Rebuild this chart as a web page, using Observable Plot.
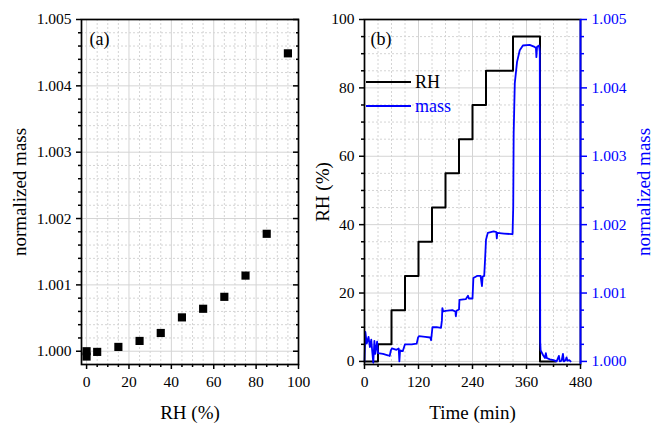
<!DOCTYPE html>
<html>
<head>
<meta charset="utf-8">
<script src="https://cdn.jsdelivr.net/npm/d3@7"></script>
<script src="https://cdn.jsdelivr.net/npm/@observablehq/plot@0.6"></script>
<style>
  html, body { margin: 0; padding: 0; background: #fff; }
  #wrap { position: relative; width: 654px; height: 423px; font-family: "Liberation Serif", "Times New Roman", serif; }
  #left { position: absolute; left: 0; top: 0; }
  #right { position: absolute; left: 300px; top: 0; }
  #legend { position: absolute; left: 366px; top: 70px; font-size: 18px; line-height: 24px; }
  #legend div { display: flex; align-items: center; height: 24px; }
  #legend svg { margin-right: 4px; }
</style>
</head>
<body>
<div id="wrap">
  <div id="left"></div>
  <div id="right"></div>
  <div id="legend">
    <div><svg width="45" height="4"><line x1="0" x2="45" y1="2" y2="2" stroke="black" stroke-width="2"/></svg><span>RH</span></div>
    <div style="color: blue;"><svg width="45" height="4"><line x1="0" x2="45" y1="2" y2="2" stroke="blue" stroke-width="1.8"/></svg><span>mass</span></div>
  </div>
</div>
<script>
// ---------- Panel (a): normalized mass vs RH ----------
const rhA   = [0, 0, 5, 15, 25, 35, 45, 55, 65, 75, 85, 95];
const massA = [1.00000, 0.99992, 0.99999, 1.000065, 1.000155, 1.000275, 1.00051, 1.00064, 1.00082, 1.00114, 1.00177, 1.00449];
const xTicksA = [0, 20, 40, 60, 80, 100];
const yTicksA = [1.000, 1.001, 1.002, 1.003, 1.004, 1.005];

// ---------- Panel (b): RH and mass vs time ----------
const rhTime  = [0, 30, 60, 90, 120, 150, 180, 210, 240, 270, 330, 390, 425];
const rhValue = [0, 5, 15, 25, 35, 45, 55, 65, 75, 85, 95, 0, 0];
const massTime = [0, 2, 5, 9, 12, 15, 17, 19.5, 22, 24, 28, 30, 41, 52, 56, 58.5, 61, 71, 76, 77.5, 79, 85, 88, 90, 105, 116, 119, 121, 135, 146, 148, 151, 160, 170, 172, 173, 175, 180, 195, 202, 203, 204.5, 210, 211, 225, 230, 232, 240, 242, 250, 258, 261, 262.5, 266, 268, 270, 274, 287, 293, 294, 295, 310, 329, 330.5, 331.5, 334, 339, 345, 352, 367, 378, 381, 382, 383.5, 388, 389.5, 390.5, 391.5, 397, 401, 403, 405, 412, 420, 427, 432, 434, 438, 441, 443, 447, 449, 451, 455, 458];
const massValue = [1.00000, 1.00043, 1.00026, 1.00036, 1.00021, 1.00032, 1.00016, 0.99998, 1.00030, 1.00011, 1.00029, 1.00012, 1.00011, 1.00009, 1.00008, 1.00016, 1.00019, 1.00017, 1.00019, 1.00000, 1.00016, 1.00015, 1.00021, 1.00025, 1.00025, 1.00026, 1.00035, 1.00037, 1.00036, 1.00035, 1.00031, 1.00050, 1.00050, 1.00049, 1.00060, 1.00078, 1.00073, 1.00074, 1.00075, 1.00073, 1.00066, 1.00074, 1.00076, 1.00090, 1.00091, 1.00096, 1.00092, 1.00092, 1.00122, 1.00125, 1.00125, 1.00110, 1.00124, 1.00125, 1.00150, 1.00178, 1.00188, 1.00190, 1.00189, 1.00180, 1.00188, 1.00187, 1.00186, 1.00225, 1.00334, 1.00407, 1.00438, 1.00455, 1.00462, 1.00463, 1.00460, 1.00458, 1.00445, 1.00460, 1.00462, 1.00453, 1.00028, 1.00016, 1.00009, 1.00005, 1.00012, 1.00005, 1.00003, 1.00002, 1.00000, 1.00008, 1.00000, 1.00001, 1.00011, 1.00000, 1.00002, 1.00006, 1.00001, 1.00002, 1.00000];
const xTicksB = [0, 120, 240, 360, 480];
const yTicksB = [0, 20, 40, 60, 80, 100];
const massTicksB = [1.000, 1.001, 1.002, 1.003, 1.004, 1.005];

// helpers
const FONT = "'Liberation Serif', 'Times New Roman', serif";
const GRID = "#d4d4d4";
const minorBetween = (majors, step) => {
  const out = [];
  for (let i = 0; i < majors.length - 1; i++) {
    for (let v = majors[i] + step; v < majors[i + 1] - step / 2; v += step) out.push(+v.toFixed(6));
  }
  return out;
};
const blank = () => "";
const ax = {strokeWidth: 1.5, fontSize: 15.5, label: null};
const title = {fontSize: 19, textAnchor: "middle", lineAnchor: "middle"};

// ---------- build panel (a) ----------
const xMinorA = minorBetween(xTicksA, 5);
const yMinorA = minorBetween(yTicksA, 0.0002);
const dataA = rhA.map((r, i) => ({rh: r, m: massA[i]}));

const plotA = Plot.plot({
  width: 300, height: 423,
  marginLeft: 81, marginRight: 2, marginTop: 19, marginBottom: 59,
  style: {fontFamily: FONT, fontSize: "15px", background: "transparent", color: "black", overflow: "visible"},
  x: {domain: [-2.4, 100]},
  y: {domain: [0.9998, 1.005]},
  marks: [
    Plot.ruleX(xMinorA, {stroke: GRID, strokeDasharray: "2,2"}),
    Plot.ruleY(yMinorA, {stroke: GRID, strokeDasharray: "2,2"}),
    Plot.ruleX(xTicksA, {stroke: GRID}),
    Plot.ruleY(yTicksA, {stroke: GRID}),
    Plot.dot(dataA, {x: "rh", y: "m", symbol: "square", r: 4.6, fill: "black", stroke: "none"}),
    Plot.frame({stroke: "black", strokeWidth: 1.7}),
    Plot.axisY({...ax, ticks: yTicksA, tickSize: 5, tickPadding: 5, tickFormat: d3.format(".3f")}),
    Plot.axisY({...ax, ticks: yMinorA, tickSize: 3, tickFormat: blank}),
    Plot.axisY({...ax, anchor: "right", ticks: yTicksA, tickSize: -6, tickFormat: blank}),
    Plot.axisY({...ax, anchor: "right", ticks: yMinorA, tickSize: -3, tickFormat: blank}),
    Plot.axisX({...ax, ticks: xTicksA, tickSize: 5, tickPadding: 6}),
    Plot.axisX({...ax, ticks: xMinorA, tickSize: 3, tickFormat: blank}),
    Plot.text(["normalized mass"], {...title, frameAnchor: "left", dx: -62, rotate: -90, fill: "black"}),
    Plot.text(["RH (%)"], {...title, frameAnchor: "bottom", dy: 48, fill: "black"}),
    Plot.text(["(a)"], {frameAnchor: "top-left", dx: 8, dy: 20, fontSize: 18, textAnchor: "start", lineAnchor: "middle", fill: "black"})
  ]
});
document.getElementById("left").append(plotA);

// ---------- build panel (b) ----------
// secondary axis: normalized mass 1.000..1.005 maps onto RH 0..100
const toEq = m => (m - 1) / 0.005 * 100;
const fromEq = e => 1 + e * 0.005 / 100;
const xMinorB = minorBetween(xTicksB, 30);
const yMinorB = minorBetween(yTicksB, 5);
const massMinorB = minorBetween(massTicksB, 0.00025).map(toEq);
const rhData = rhTime.map((t, i) => ({t, v: rhValue[i]}));
const massData = massTime.map((t, i) => ({t, v: toEq(massValue[i])}));

const plotB = Plot.plot({
  width: 354, height: 423,
  marginLeft: 64, marginRight: 74, marginTop: 19, marginBottom: 59,
  style: {fontFamily: FONT, fontSize: "15px", background: "transparent", color: "black", overflow: "visible"},
  x: {domain: [0, 480]},
  y: {domain: [-0.9, 100]},
  marks: [
    Plot.ruleX(xMinorB, {stroke: GRID, strokeDasharray: "2,2"}),
    Plot.ruleY(yMinorB, {stroke: GRID, strokeDasharray: "2,2"}),
    Plot.ruleX(xTicksB, {stroke: GRID}),
    Plot.ruleY(yTicksB, {stroke: GRID}),
    Plot.line(rhData, {x: "t", y: "v", curve: "step-after", stroke: "black", strokeWidth: 2}),
    Plot.line(massData, {x: "t", y: "v", stroke: "blue", strokeWidth: 1.8}),
    Plot.frame({stroke: "black", strokeWidth: 1.7}),
    Plot.ruleX([480], {stroke: "blue", strokeWidth: 1.9}),
    Plot.axisY({...ax, ticks: yTicksB, tickSize: 5, tickPadding: 5}),
    Plot.axisY({...ax, ticks: yMinorB, tickSize: 3, tickFormat: blank}),
    Plot.axisY({...ax, anchor: "right", ticks: massTicksB.map(toEq), tickSize: 6, tickPadding: 5, stroke: "blue", fill: "blue", tickFormat: e => fromEq(e).toFixed(3)}),
    Plot.axisY({...ax, anchor: "right", ticks: massMinorB, tickSize: 3, stroke: "blue", tickFormat: blank}),
    Plot.axisX({...ax, ticks: xTicksB, tickSize: 5, tickPadding: 6}),
    Plot.axisX({...ax, ticks: xMinorB, tickSize: 3, tickFormat: blank}),
    Plot.text(["RH (%)"], {...title, frameAnchor: "left", dx: -42, rotate: -90, fill: "black"}),
    Plot.text(["normalized mass"], {...title, frameAnchor: "right", dx: 63, rotate: -90, fill: "blue"}),
    Plot.text(["Time (min)"], {...title, frameAnchor: "bottom", dy: 48, fill: "black"}),
    Plot.text(["(b)"], {frameAnchor: "top-left", dx: 6, dy: 20, fontSize: 18, textAnchor: "start", lineAnchor: "middle", fill: "black"})
  ]
});
document.getElementById("right").append(plotB);

d3.selectAll("#wrap svg text").style("font-family", "Liberation Serif, serif");
</script>
</body>
</html>
